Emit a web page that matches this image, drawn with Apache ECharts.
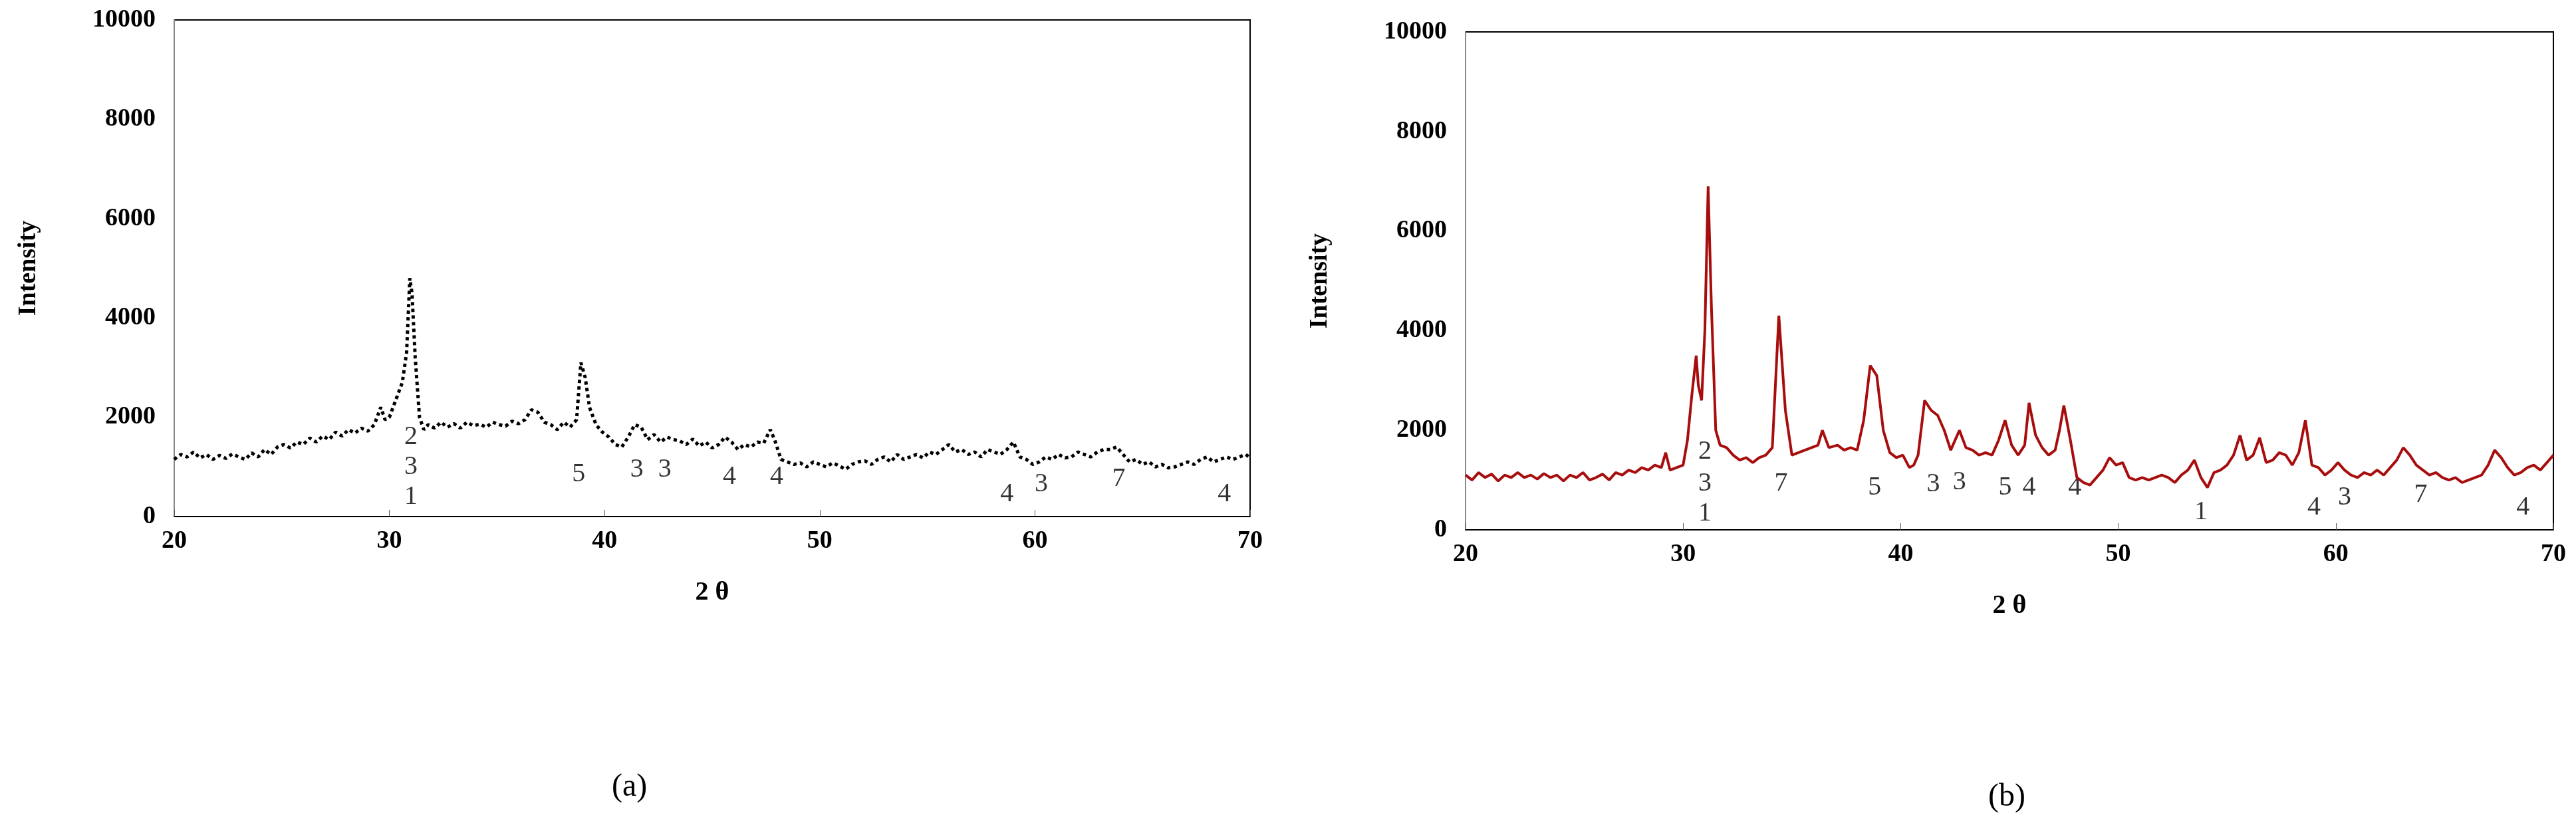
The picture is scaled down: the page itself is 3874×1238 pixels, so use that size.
<!DOCTYPE html>
<html><head><meta charset="utf-8">
<script src="https://cdn.jsdelivr.net/npm/echarts@6/dist/echarts.min.js"></script>
<style>html,body{margin:0;padding:0;background:#fff}#c{width:3874px;height:1238px}</style>
</head><body><div id="c"></div>
<script>
const seriesA = [[20,1150],[20.3,1250],[20.6,1200],[20.9,1300],[21.2,1180],[21.5,1250],[21.8,1150],[22.1,1230],[22.4,1170],[22.7,1260],
[23,1200],[23.3,1150],[23.6,1280],[23.9,1200],[24.2,1350],[24.5,1250],[24.8,1400],[25.1,1450],[25.4,1380],[25.7,1500],
[26,1450],[26.3,1580],[26.6,1500],[26.9,1620],[27.2,1550],[27.5,1700],[27.8,1620],[28.1,1750],[28.4,1680],[28.7,1780],
[29,1720],[29.3,1850],[29.6,2200],[29.8,1950],[30,2000],[30.3,2350],[30.6,2700],[30.8,3300],[30.95,4800],[31.05,4500],
[31.2,3200],[31.4,2000],[31.6,1750],[31.8,1850],[32.1,1780],[32.4,1900],[32.7,1800],[33,1870],[33.3,1780],[33.6,1900],
[33.9,1830],[34.2,1860],[34.5,1800],[34.8,1900],[35.1,1850],[35.4,1820],[35.7,1920],[36,1870],[36.3,1950],[36.6,2150],
[36.9,2100],[37.2,1900],[37.5,1850],[37.8,1750],[38.1,1900],[38.4,1800],[38.7,1950],[38.9,3100],[39.1,2800],[39.3,2200],
[39.6,1850],[39.9,1700],[40.2,1600],[40.5,1450],[40.8,1400],[41.1,1600],[41.4,1850],[41.7,1800],[42,1550],[42.3,1650],
[42.6,1500],[42.9,1600],[43.2,1550],[43.5,1520],[43.8,1450],[44.1,1560],[44.4,1420],[44.7,1500],[45,1380],[45.3,1450],
[45.6,1600],[45.9,1500],[46.2,1350],[46.5,1450],[46.8,1400],[47.1,1500],[47.4,1480],[47.7,1750],[47.9,1550],[48.2,1150],
[48.5,1100],[48.8,1050],[49.1,1080],[49.4,1000],[49.7,1100],[50,1050],[50.3,1000],[50.6,1080],[50.9,1020],[51.2,950],
[51.5,1050],[51.8,1100],[52.1,1120],[52.4,1050],[52.7,1150],[53,1200],[53.3,1100],[53.6,1250],[53.9,1150],[54.2,1200],
[54.5,1250],[54.8,1180],[55.1,1300],[55.4,1250],[55.7,1350],[56,1450],[56.3,1300],[56.6,1350],[56.9,1250],[57.2,1300],
[57.5,1200],[57.8,1350],[58.1,1300],[58.4,1250],[58.7,1350],[59,1500],[59.3,1200],[59.6,1150],[59.9,1050],[60.2,1100],
[60.5,1200],[60.8,1150],[61.1,1250],[61.4,1180],[61.7,1200],[62,1300],[62.3,1250],[62.6,1200],[62.9,1300],[63.2,1350],
[63.5,1350],[63.8,1400],[64.1,1250],[64.4,1100],[64.7,1150],[65,1050],[65.3,1100],[65.6,1000],[65.9,1050],[66.2,980],
[66.5,1000],[66.8,1050],[67.1,1100],[67.4,1050],[67.7,1150],[68,1200],[68.3,1100],[68.6,1150],[68.9,1200],[69.2,1150],
[69.5,1200],[69.8,1250],[70,1180]];
const seriesB = [[20,1100],[20.3,1000],[20.6,1150],[20.9,1050],[21.2,1120],[21.5,980],[21.8,1100],[22.1,1050],[22.4,1150],[22.7,1050],
[23,1100],[23.3,1020],[23.6,1130],[23.9,1050],[24.2,1100],[24.5,980],[24.8,1100],[25.1,1050],[25.4,1150],[25.7,1000],
[26,1050],[26.3,1120],[26.6,1000],[26.9,1150],[27.2,1100],[27.5,1200],[27.8,1150],[28.1,1250],[28.4,1200],[28.7,1300],
[29,1250],[29.2,1550],[29.4,1200],[29.7,1250],[30,1300],[30.2,1800],[30.4,2700],[30.6,3500],[30.7,2900],[30.85,2600],
[31,4000],[31.15,6900],[31.3,4500],[31.5,2000],[31.7,1700],[32,1650],[32.3,1500],[32.6,1400],[32.9,1450],[33.2,1350],
[33.5,1450],[33.8,1500],[34.1,1650],[34.4,4300],[34.7,2400],[35,1500],[35.3,1550],[35.6,1600],[35.9,1650],[36.2,1700],
[36.4,2000],[36.7,1650],[37.1,1700],[37.4,1600],[37.7,1650],[38,1600],[38.3,2200],[38.6,3300],[38.9,3100],[39.2,2000],
[39.5,1550],[39.8,1450],[40.1,1500],[40.4,1250],[40.6,1300],[40.8,1500],[41.1,2600],[41.4,2400],[41.7,2300],[42,2000],
[42.3,1600],[42.7,2000],[43,1650],[43.3,1600],[43.6,1500],[43.9,1550],[44.2,1500],[44.5,1800],[44.8,2200],[45.1,1700],
[45.4,1500],[45.7,1700],[45.9,2550],[46.2,1900],[46.5,1650],[46.8,1500],[47.1,1600],[47.3,2000],[47.5,2500],[47.8,1800],
[48.1,1050],[48.4,950],[48.7,900],[49,1050],[49.3,1200],[49.6,1450],[49.9,1300],[50.2,1350],[50.5,1050],[50.8,1000],
[51.1,1050],[51.4,1000],[51.7,1050],[52,1100],[52.3,1050],[52.6,950],[52.9,1100],[53.2,1200],[53.5,1400],[53.8,1050],
[54.1,850],[54.4,1150],[54.7,1200],[55,1300],[55.3,1500],[55.6,1900],[55.9,1400],[56.2,1500],[56.5,1850],[56.8,1350],
[57.1,1400],[57.4,1550],[57.7,1500],[58,1300],[58.3,1550],[58.6,2200],[58.9,1300],[59.2,1250],[59.5,1100],[59.8,1200],
[60.1,1350],[60.4,1200],[60.7,1100],[61,1050],[61.3,1150],[61.6,1100],[61.9,1200],[62.2,1100],[62.5,1250],[62.8,1400],
[63.1,1650],[63.4,1500],[63.7,1300],[64,1200],[64.3,1100],[64.6,1150],[64.9,1050],[65.2,1000],[65.5,1050],[65.8,950],
[66.1,1000],[66.4,1050],[66.7,1100],[67,1300],[67.3,1600],[67.6,1450],[67.9,1250],[68.2,1100],[68.5,1150],[68.8,1250],
[69.1,1300],[69.4,1200],[69.7,1350],[70,1500]];
const labA = [[31,1600,'2'],[31,1000,'3'],[31,400,'1'],[38.8,850,'5'],[41.5,950,'3'],[42.8,950,'3'],[45.8,800,'4'],[48,800,'4'],[58.7,450,'4'],[60.3,650,'3'],[63.9,750,'7'],[68.8,450,'4']];
const labB = [[31,1575,'2'],[31,930,'3'],[31,330,'1'],[34.5,930,'7'],[38.8,850,'5'],[41.5,920,'3'],[42.7,950,'3'],[44.8,850,'5'],[45.9,850,'4'],[48,850,'4'],[53.8,350,'1'],[59,450,'4'],[60.4,650,'3'],[63.9,700,'7'],[68.6,450,'4']];
const F = 'Liberation Serif';
const ch = echarts.init(document.getElementById('c'));
function xAx(i){return {type:'value',gridIndex:i,min:20,max:70,interval:10,
  axisLine:{lineStyle:{color:'#000',width:2}},axisTick:{inside:true,length:10,lineStyle:{color:'#555'}},
  splitLine:{show:false},axisLabel:{fontFamily:F,fontWeight:'bold',fontSize:38,color:'#000',margin:18},
  name:'2 θ',nameLocation:'middle',nameGap:95,nameTextStyle:{fontFamily:F,fontWeight:'bold',fontSize:40,color:'#000'}};}
function yAx(i){return {type:'value',gridIndex:i,min:0,max:10000,interval:2000,
  axisLine:{show:true,lineStyle:{color:'#888',width:2}},axisTick:{show:false},splitLine:{show:false},
  axisLabel:{fontFamily:F,fontWeight:'bold',fontSize:38,color:'#000',margin:28,formatter:v=>String(v)},
  name:'Intensity',nameLocation:'middle',nameGap:200,nameTextStyle:{fontFamily:F,fontWeight:'bold',fontSize:38,color:'#000'}};}
function labSeries(arr,i){return {type:'scatter',xAxisIndex:i,yAxisIndex:i,symbolSize:0,data:arr,
  label:{show:true,position:'inside',formatter:p=>p.data[2],fontFamily:F,fontSize:40,color:'#000'},silent:true};}
ch.setOption({
  animation:false,
  grid:[{left:262,top:30,width:1618,height:747,show:true,borderColor:'#000',borderWidth:2},
        {left:2204,top:48,width:1636,height:749,show:true,borderColor:'#000',borderWidth:2}],
  xAxis:[xAx(0),xAx(1)], yAxis:[yAx(0),yAx(1)],
  title:[{text:'(a)',left:915,top:1155,textStyle:{fontFamily:F,fontWeight:'normal',fontSize:48,color:'#000'}},
         {text:'(b)',left:2985,top:1170,textStyle:{fontFamily:F,fontWeight:'normal',fontSize:48,color:'#000'}}],
  series:[
    {type:'line',xAxisIndex:0,yAxisIndex:0,showSymbol:false,data:seriesA,
     lineStyle:{color:'#000',width:5,type:'dotted'}},
    {type:'line',xAxisIndex:1,yAxisIndex:1,showSymbol:false,data:seriesB,
     lineStyle:{color:'#a80d0d',width:4}},
    labSeries(labA,0),labSeries(labB,1)
  ]
});
</script></body></html>
